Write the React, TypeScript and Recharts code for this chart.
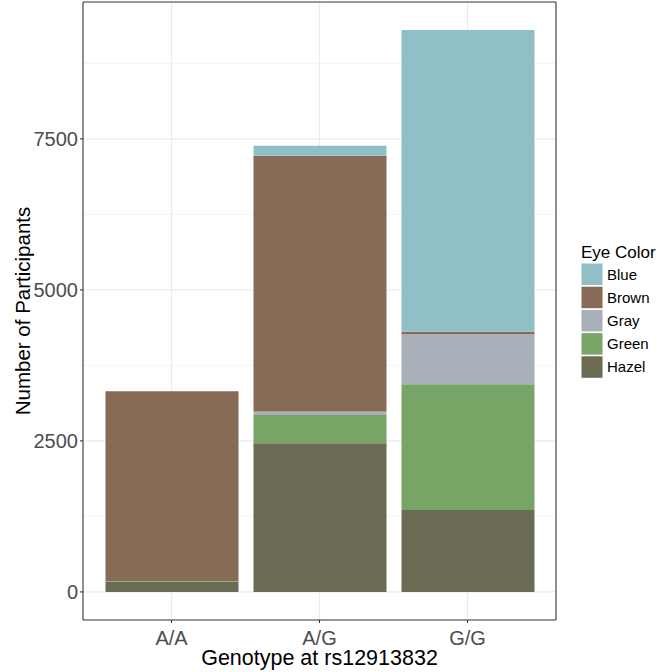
import React from 'react';
import { BarChart, Bar, XAxis, YAxis, CartesianGrid } from 'recharts';

const genotypes = ['A/A', 'A/G', 'G/G'];
const blue = [0, 165, 4994];
const brown = [3141, 4235, 40];
const gray = [0, 56, 831];
const green = [10, 467, 2081];
const hazel = [170, 2462, 1355];

const yTicks = [0, 2500, 5000, 7500];
const yMinor = [1250, 3750, 6250, 8750];
const yDomain = [-465, 9766];

// legend order top to bottom, stack order is the reverse
const series = [
    { key: 'Blue', values: blue, color: '#90BFC7' },
    { key: 'Brown', values: brown, color: '#876B56' },
    { key: 'Gray', values: gray, color: '#A8AFB8' },
    { key: 'Green', values: green, color: '#76A565' },
    { key: 'Hazel', values: hazel, color: '#6B6A53' },
];

const data = genotypes.map((g, i) => {
    const row: Record<string, string | number> = { genotype: g };
    series.forEach(s => { row[s.key] = s.values[i]; });
    return row;
});

const font = '"Liberation Sans", Arial, Helvetica, sans-serif';
const frame = { stroke: '#333333', strokeWidth: 1.1 };

function EyeLegend() {
    return (
        <svg width={83} height={140} style={{ fontFamily: font, display: 'block' }}>
            <text x={0} y={18} fontSize={17} fill="#000">Eye Color</text>
            {series.map((s, i) => (
                <g key={s.key}>
                    <rect x={0.5} y={23.5 + i * 23.2} width={21} height={21.5} fill={s.color} />
                    <text x={26} y={39.5 + i * 23.2} fontSize={15} fill="#000">{s.key}</text>
                </g>
            ))}
        </svg>
    );
}

export default function App() {
    return (
        <div style={{ position: 'absolute', left: 0, top: 0, width: 664, height: 672, background: '#fff' }}>
            <BarChart
                width={664}
                height={672}
                data={data}
                margin={{ top: 1, right: 107, bottom: 0, left: 0 }}
                barSize={133}
                style={{ fontFamily: font }}
            >
                <CartesianGrid stroke="#EBEBEB" strokeWidth={0.6} horizontalValues={yMinor} vertical={false} />
                <CartesianGrid stroke="#EBEBEB" strokeWidth={1.2} horizontalValues={yTicks} verticalValues={genotypes} />
                <XAxis
                    dataKey="genotype"
                    height={52}
                    padding={{ left: 14.5, right: 14.5 }}
                    axisLine={frame}
                    tickLine={frame}
                    tickSize={3}
                    tickMargin={8}
                    tick={{ fill: '#4D4D4D', fontSize: 20 }}
                    label={{ value: 'Genotype at rs12913832', position: 'insideBottom', offset: 7, fill: '#000', fontSize: 21.5 }}
                />
                {/* top edge of the panel border */}
                <XAxis
                    xAxisId="top"
                    dataKey="genotype"
                    orientation="top"
                    height={1}
                    padding={{ left: 14.5, right: 14.5 }}
                    axisLine={frame}
                    tickLine={false}
                    tick={false}
                />
                <YAxis
                    width={83}
                    domain={yDomain}
                    ticks={yTicks}
                    allowDataOverflow
                    axisLine={frame}
                    tickLine={frame}
                    tickSize={3}
                    tickMargin={2}
                    tick={{ fill: '#4D4D4D', fontSize: 20 }}
                    label={{ value: 'Number of Participants', angle: -90, position: 'insideLeft', offset: 23, fill: '#000', fontSize: 20.5, style: { textAnchor: 'middle' } }}
                />
                {/* right edge of the panel border */}
                <YAxis
                    yAxisId="right"
                    orientation="right"
                    width={1}
                    domain={yDomain}
                    allowDataOverflow
                    axisLine={frame}
                    tickLine={false}
                    tick={false}
                />
                {[...series].reverse().map(s => (
                    <Bar key={s.key} dataKey={s.key} stackId="eyes" fill={s.color} isAnimationActive={false} />
                ))}
            </BarChart>
            <div style={{ position: 'absolute', left: 581, top: 240 }}>
                <EyeLegend />
            </div>
        </div>
    );
}
